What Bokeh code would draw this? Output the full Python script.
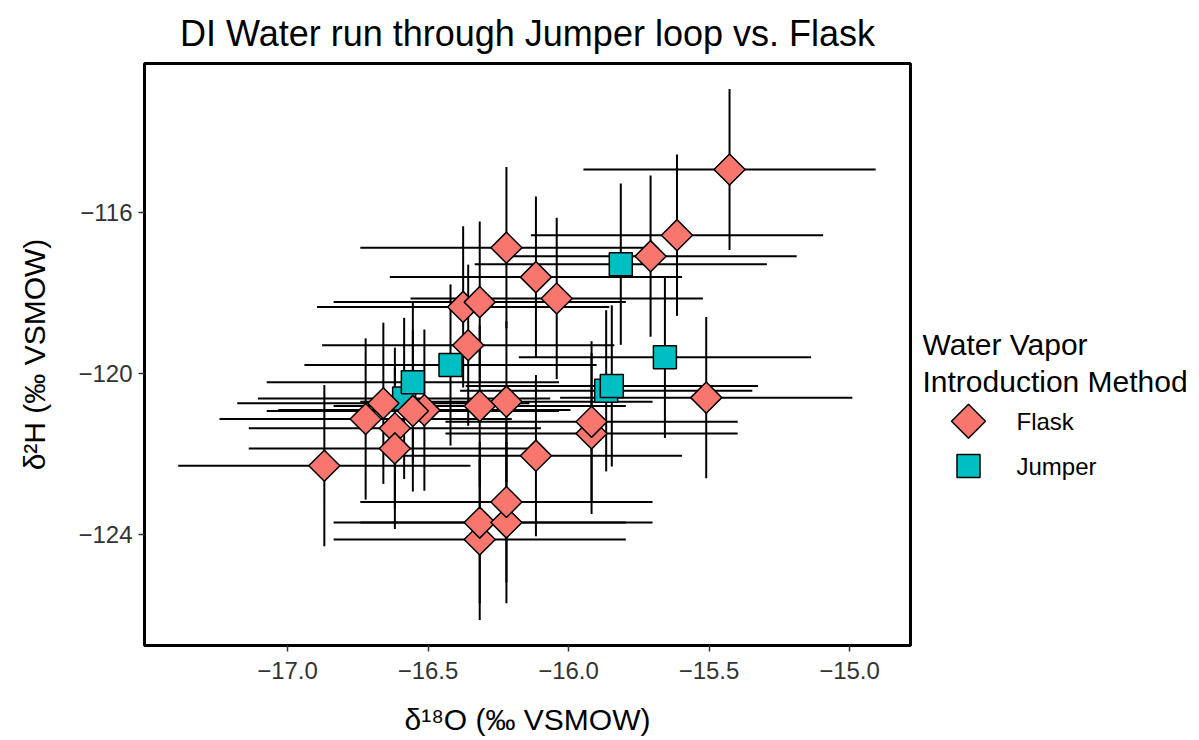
import math
import numpy as np
from bokeh.plotting import figure
from bokeh.models import ColumnDataSource, Range1d, FixedTicker
from bokeh.layouts import row
from bokeh.core.properties import value
from bokeh.embed import file_html
from bokeh.resources import INLINE

# ---------------- data ----------------
flask_d18O = [-15.427, -15.614, -15.708, -16.221, -16.116, -16.042, -16.375, -16.316,
              -16.357, -15.510, -15.918, -15.918, -16.116, -16.221, -16.316, -16.316,
              -16.316, -16.221, -16.221, -16.869, -16.722, -16.618, -16.659, -16.618,
              -16.513, -16.554]
flask_d2H = [-114.94, -116.57, -117.09, -116.88, -117.61, -118.14, -118.35, -118.23,
             -119.30, -120.60, -121.49, -121.20, -122.04, -120.70, -120.81, -124.12,
             -123.70, -123.70, -123.19, -122.29, -121.13, -121.36, -120.74, -121.86,
             -120.91, -120.93]

jumper_d18O = [-15.814, -15.657, -15.866, -15.846, -16.420, -16.585, -16.554]
jumper_d2H = [-117.29, -119.60, -120.43, -120.31, -119.79, -120.62, -120.22]

d18O_err = 0.52   # half-width of horizontal error bars
d2H_err = 2.0     # half-height of vertical error bars

x_ticks = [-17.0, -16.5, -16.0, -15.5, -15.0]
x_tick_labels = ["\u221217.0", "\u221216.5", "\u221216.0", "\u221215.5", "\u221215.0"]
y_ticks = [-124, -120, -116]
y_tick_labels = ["\u2212124", "\u2212120", "\u2212116"]

groups = ["Flask", "Jumper"]
group_colors = ["#F8766D", "#00BFC4"]

FONT = "Liberation Sans"
TOP, BOTTOM = 61, 95   # frame borders (px) shared by both panels

# ---------------- main plot ----------------
p = figure(width=915, height=740, output_backend="svg", toolbar_location=None,
           x_range=Range1d(-17.509, -14.783), y_range=Range1d(-126.75, -112.31),
           min_border_left=144, min_border_right=5,
           min_border_top=TOP, min_border_bottom=BOTTOM)
p.background_fill_color = "white"
p.border_fill_color = "white"
p.outline_line_color = "black"
p.outline_line_width = 3
p.xgrid.visible = False
p.ygrid.visible = False

p.title.text = "DI Water run through Jumper loop vs. Flask"
p.title.align = "center"
p.title.text_font = FONT
p.title.text_font_size = "36px"
p.title.text_font_style = "normal"
p.title.text_color = "black"
p.title.standoff = 20

p.xaxis.axis_label = "\u03b4\u00b9\u2078O (\u2030 VSMOW)"
p.yaxis.axis_label = "\u03b4\u00b2H (\u2030 VSMOW)"
p.xaxis.ticker = FixedTicker(ticks=x_ticks)
p.yaxis.ticker = FixedTicker(ticks=y_ticks)
p.xaxis.major_label_overrides = {t: l for t, l in zip(x_ticks, x_tick_labels)}
p.yaxis.major_label_overrides = {t: l for t, l in zip(y_ticks, y_tick_labels)}
for ax in (p.xaxis, p.yaxis):
    ax.axis_line_color = None
    ax.major_tick_line_color = "#333333"
    ax.major_tick_line_width = 1.5
    ax.major_tick_out = 6
    ax.major_tick_in = 0
    ax.minor_tick_line_color = None
    ax.major_label_text_font = FONT
    ax.major_label_text_font_size = "24px"
    ax.major_label_text_color = "#333333"
    ax.axis_label_text_font = FONT
    ax.axis_label_text_font_size = "30px"
    ax.axis_label_text_font_style = "normal"
    ax.axis_label_text_color = "black"
p.xaxis.major_label_standoff = 10
p.xaxis.axis_label_standoff = 21
p.yaxis.major_label_standoff = 6
p.yaxis.axis_label_standoff = 24
p.yaxis.major_label_orientation = "horizontal"

# error bars (all behind the points)
all_x = np.array(flask_d18O + jumper_d18O)
all_y = np.array(flask_d2H + jumper_d2H)
err_src = ColumnDataSource(dict(
    x=all_x, y=all_y,
    x0=all_x - d18O_err, x1=all_x + d18O_err,
    y0=all_y - d2H_err, y1=all_y + d2H_err,
))
p.segment(x0="x0", x1="x1", y0="y", y1="y", source=err_src, line_color="black", line_width=2)
p.segment(x0="x", x1="x", y0="y0", y1="y1", source=err_src, line_color="black", line_width=2)

# points: Jumper squares first, then Flask diamonds
p.scatter(jumper_d18O, jumper_d2H, marker="square", size=23,
          fill_color=group_colors[1], line_color="black", line_width=1.5)
p.scatter(flask_d18O, flask_d2H, marker="square", size=22, angle=math.pi / 4,
          fill_color=group_colors[0], line_color="black", line_width=1.5)

# ---------------- legend panel (frame aligned with the main frame) ----------------
leg = figure(width=284, height=740, output_backend="svg", toolbar_location=None,
             title=None, x_axis_location=None, y_axis_location=None,
             x_range=Range1d(915, 1199), y_range=Range1d(740 - BOTTOM, TOP),
             min_border_left=0, min_border_right=0,
             min_border_top=TOP, min_border_bottom=BOTTOM)
leg.xgrid.visible = False
leg.ygrid.visible = False
leg.outline_line_color = None
leg.background_fill_color = "white"
leg.border_fill_color = "white"

leg.text(x=[922, 922], y=[343, 380], text=["Water Vapor", "Introduction Method"],
         text_font=value(FONT), text_font_size="30px", text_color="black",
         text_baseline="alphabetic", text_align="left")
leg.scatter(x=[968], y=[420], marker="square", size=24, angle=math.pi / 4,
            fill_color=group_colors[0], line_color="black", line_width=1.5)
leg.scatter(x=[968], y=[465], marker="square", size=23,
            fill_color=group_colors[1], line_color="black", line_width=1.5)
leg.text(x=[1016, 1016], y=[420, 465], text=groups,
         text_font=value(FONT), text_font_size="24px", text_color="black",
         text_baseline="middle", text_align="left")

layout = row(p, leg, spacing=0)
open("out.html", "w").write(file_html(layout, INLINE))
